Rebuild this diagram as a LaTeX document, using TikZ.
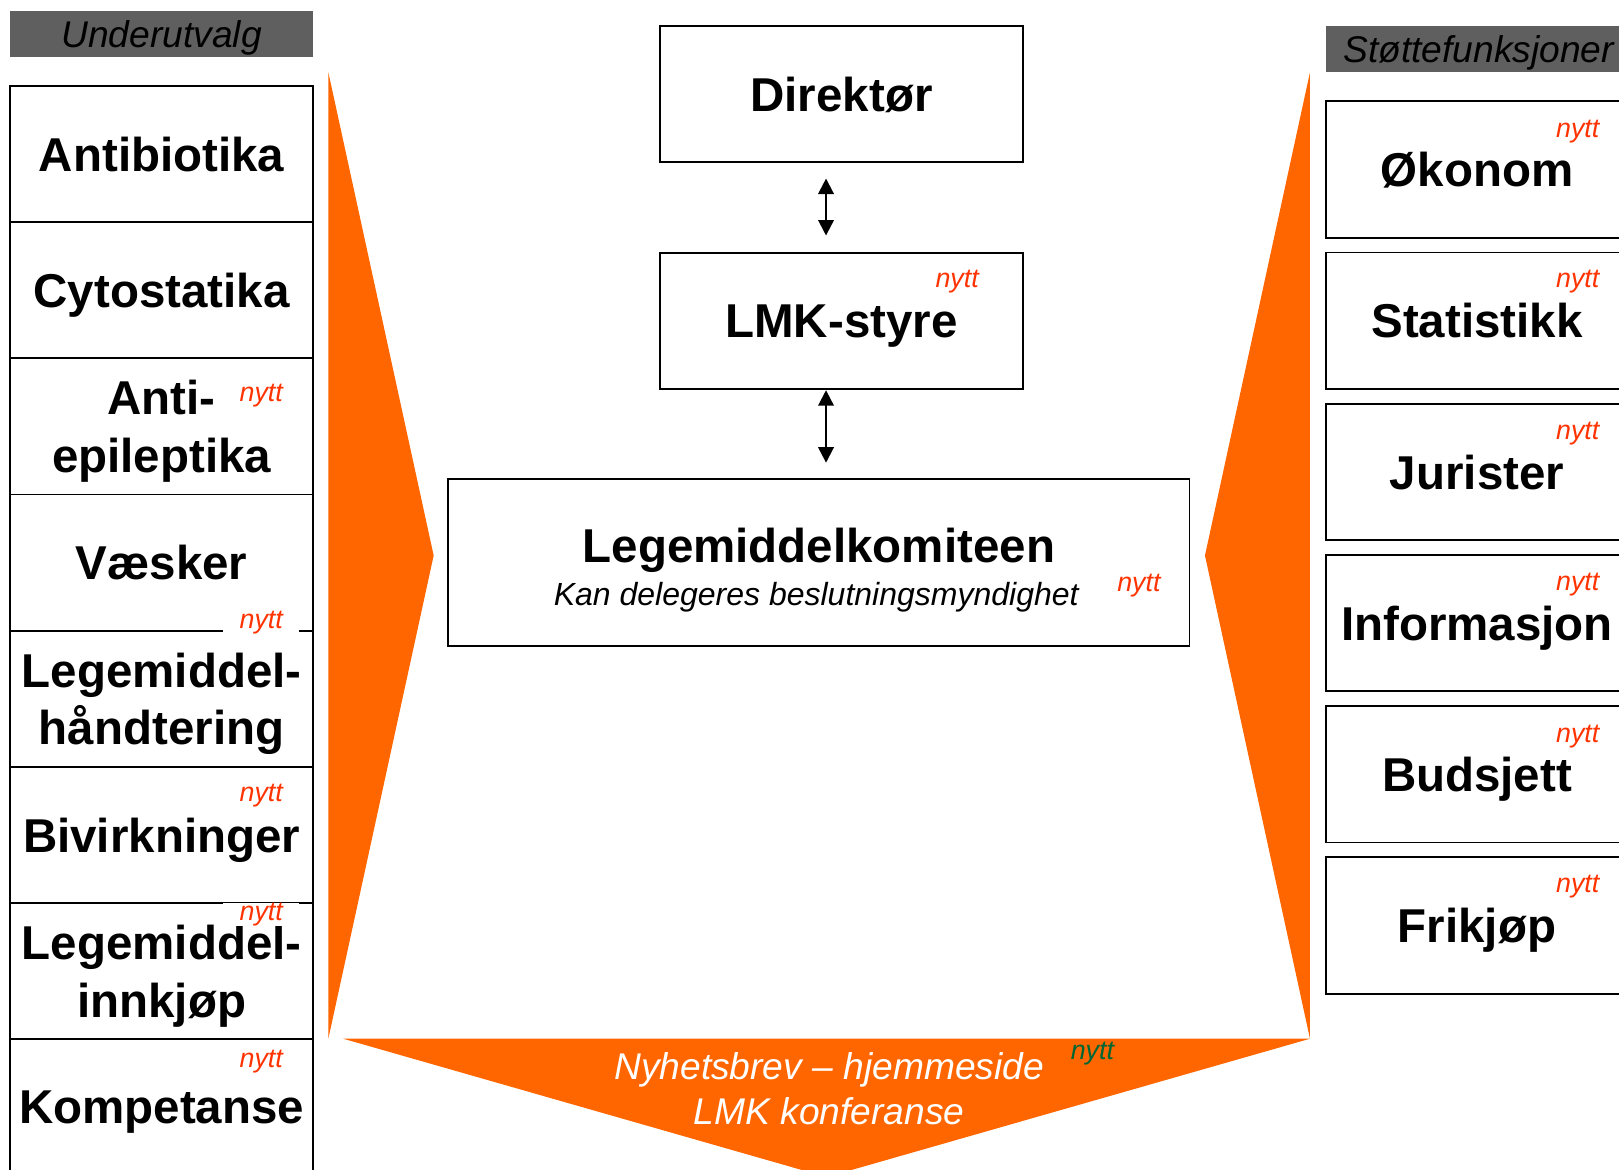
\documentclass[tikz,border=0pt]{standalone}
\usepackage{fontspec}
\setmainfont{Liberation Sans}
\usetikzlibrary{arrows.meta}

\definecolor{lmkorange}{HTML}{FF6600}
\definecolor{nyttred}{HTML}{FF3300}
\definecolor{nyttgreen}{HTML}{006633}
\definecolor{headgray}{HTML}{5F5F5F}

\begin{document}
\begin{tikzpicture}[x=1pt,y=-1pt,
    unit/.style={draw, line width=1.8pt, minimum width=293pt, minimum height=132pt,
        inner sep=0pt, align=center, text depth=0pt,
        font=\fontsize{46}{56}\selectfont\bfseries},
    header/.style={fill=headgray, minimum height=44.5pt, inner sep=0pt, text depth=0pt,
        font=\fontsize{36}{40}\selectfont\itshape},
    nytt/.style={text=nyttred, inner sep=1pt, font=\fontsize{26}{30}\selectfont\itshape},
    nyttbg/.style={nytt, fill=white, inner xsep=16pt, inner ysep=0pt},
    link/.style={line width=2pt, {Triangle[width=15pt,length=15pt]}-{Triangle[width=15pt,length=15pt]}}]

    \useasboundingbox (0,0) rectangle (1568,1133);
    \clip (0,0) rectangle (1568,1133);

    % orange funnel
    \coordinate (lt) at (318,70);
    \coordinate (ltip) at (420,538);
    \coordinate (lb) at (318,1006);
    \fill [lmkorange] (lt) -- (ltip) -- (lb) -- cycle;

    \coordinate (rt) at (1268.7,70);
    \coordinate (rtip) at (1167,538);
    \coordinate (rb) at (1268.7,1006);
    \fill [lmkorange] (rt) -- (rtip) -- (rb) -- cycle;

    \coordinate (bl) at (332.5,1006);
    \coordinate (br) at (1268.7,1006);
    \coordinate (btip) at (800.6,1140);
    \fill [lmkorange] (bl) -- (br) -- (btip) -- cycle;

    % underutvalg
    \node [header, minimum width=293pt] (uhead) at (156.5,33) {Underutvalg};

    \node [unit] (antibio) at (156.5,149.2) {Antibiotika};
    \node [unit] (cyto) at (156.5,280.9) {Cytostatika};
    \node [unit] (epilep) at (156.5,412.9) {Anti-\\epileptika};
    \node [unit] (vaesker) at (156.5,544.9) {Væsker};
    \node [unit] (handt) at (156.5,676.7) {Legemiddel-\\håndtering};
    \node [unit] (bivirk) at (156.5,808.6) {Bivirkninger};
    \node [unit] (innkjop) at (156.5,940.3) {Legemiddel-\\innkjøp};
    \node [unit] (kompet) at (156.5,1072.1) {Kompetanse};

    \node [nytt] (n1) at (253,383) {nytt};
    \node [nyttbg] (n2) at (253,603) {nytt};
    \node [nytt] (n3) at (253,771) {nytt};
    \node [nyttbg] (n4) at (253,886) {nytt};
    \node [nytt] (n5) at (253,1028) {nytt};

    % stottefunksjoner
    \node [header, minimum width=296pt] (shead) at (1432,47.5) {Støttefunksjoner};

    \node [unit] (okonom) at (1430.5,164.2) {Økonom};
    \node [unit] (statist) at (1430.5,310.6) {Statistikk};
    \node [unit] (jurist) at (1430.5,457.0) {Jurister};
    \node [unit] (inform) at (1430.5,603.4) {Informasjon};
    \node [unit] (budsj) at (1430.5,749.9) {Budsjett};
    \node [unit] (frikj) at (1430.5,896.3) {Frikjøp};

    \node [nytt] (n6) at (1528,127) {nytt};
    \node [nytt] (n7) at (1528,273) {nytt};
    \node [nytt] (n8) at (1528,420) {nytt};
    \node [nytt] (n9) at (1528,566) {nytt};
    \node [nytt] (n10) at (1528,713) {nytt};
    \node [nytt] (n11) at (1528,859) {nytt};

    % midten
    \node [unit, minimum width=352pt] (dir) at (815,91) {Direktør};
    \node [unit, minimum width=352pt] (styre) at (815,311) {LMK-styre};
    \node [nytt] (n12) at (927,273) {nytt};

    \node [draw, line width=1.8pt, minimum width=718pt, minimum height=162pt] (lmk) at (793,545) {};
    \node [text depth=0pt, font=\fontsize{46}{56}\selectfont\bfseries] (lmktitle) at (793,528) {Legemiddelkomiteen};
    \node [text depth=0pt, font=\fontsize{31}{36}\selectfont\itshape] (lmksub) at (790.5,575) {Kan delegeres beslutningsmyndighet};
    \node [nytt] (n13) at (1103,567) {nytt};

    \draw [link, shorten <=15pt, shorten >=16pt] ([xshift=-15pt]dir.south) -- ([xshift=-15pt]styre.north);
    \draw [link, shorten >=15pt] ([xshift=-15pt]styre.south) -- ([xshift=7pt]lmk.north);

    % nyhetsbrev
    \node [align=center, text=white, text depth=0pt, font=\fontsize{36}{44}\selectfont\itshape] (news) at (803,1054) {Nyhetsbrev – hjemmeside\\LMK konferanse};
    \node [nytt, text=nyttgreen] (n14) at (1058,1020) {nytt};

\end{tikzpicture}
\end{document}
